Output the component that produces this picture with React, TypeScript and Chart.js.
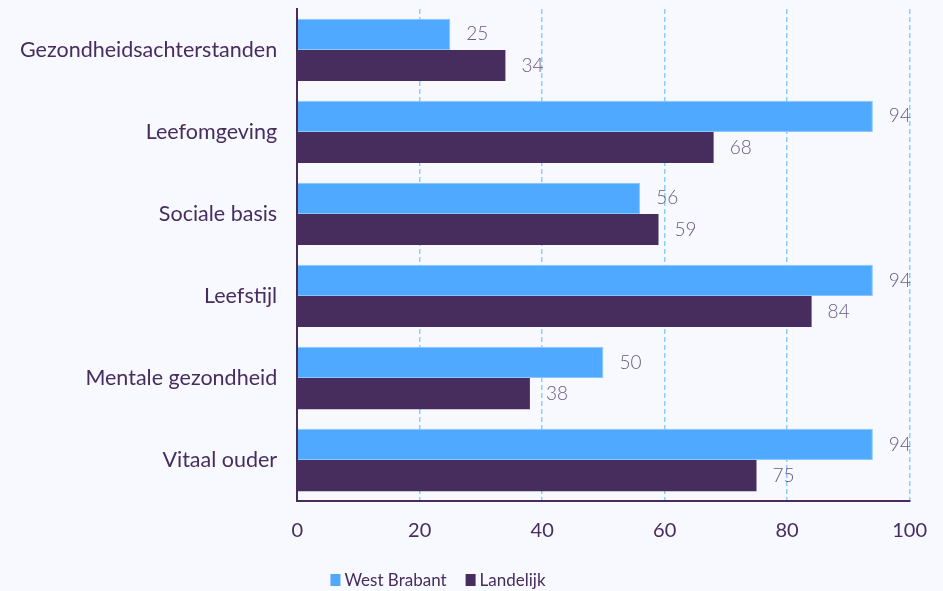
import React, { useEffect, useRef } from "react";
import { Chart, registerables } from "chart.js";

Chart.register(...registerables);

const categories = [
  "Gezondheidsachterstanden",
  "Leefomgeving",
  "Sociale basis",
  "Leefstijl",
  "Mentale gezondheid",
  "Vitaal ouder",
];
const westBrabant = [25, 94, 56, 94, 50, 94];
const landelijk = [34, 68, 59, 84, 38, 75];
const seriesNames = ["West Brabant", "Landelijk"];
const xMin = 0;
const xMax = 100;
const xStep = 20;

const TEXT = "#472c5e";
const BLUE = "#4fa9ff";
const PURPLE = "#472c5e";
const BG = "#f7f9fe";

const valueLabels = {
  id: "valueLabels",
  afterDatasetsDraw(chart: any) {
    const ctx = chart.ctx;
    ctx.save();
    ctx.font = "300 19px Lato";
    ctx.fillStyle = "#6a5981";
    ctx.textBaseline = "middle";
    ctx.textAlign = "left";
    chart.data.datasets.forEach((ds: any, i: number) => {
      const meta = chart.getDatasetMeta(i);
      meta.data.forEach((bar: any, j: number) => {
        ctx.fillText(String(ds.data[j]), bar.x + 16, bar.y);
      });
    });
    ctx.restore();
  },
};

const LEGEND_CENTER_X = 438;
const LEGEND_OFFSET_Y = 79;

const customLegend = {
  id: "customLegend",
  afterDraw(chart: any) {
    const ctx = chart.ctx;
    ctx.save();
    ctx.font = "17px Lato";
    ctx.textBaseline = "middle";
    ctx.textAlign = "left";
    const box = 10;
    const gap = 4;
    const itemGap = 19;
    const items = chart.data.datasets.map((ds: any) => ({
      text: ds.label,
      color: ds.backgroundColor,
      w: box + gap + ctx.measureText(ds.label).width,
    }));
    const total = items.reduce((s: number, it: any) => s + it.w, 0) + itemGap * (items.length - 1);
    let x = LEGEND_CENTER_X - total / 2;
    const y = chart.chartArea.bottom + LEGEND_OFFSET_Y;
    items.forEach((it: any) => {
      ctx.fillStyle = it.color;
      ctx.fillRect(x, y - 6, box, 12);
      ctx.fillStyle = TEXT;
      ctx.fillText(it.text, x + box + gap, y + 1);
      x += it.w + itemGap;
    });
    ctx.restore();
  },
};

export default function App() {
  const ref = useRef<HTMLCanvasElement | null>(null);
  useEffect(() => {
    let chart: any = null;
    let cancelled = false;
    const make = () => {
      if (cancelled || !ref.current) return;
      chart = new Chart(ref.current, {
        type: "bar",
        data: {
          labels: categories,
          datasets: [
            {
              label: seriesNames[0],
              data: westBrabant,
              backgroundColor: BLUE,
              borderColor: "#8cc6ff",
              borderWidth: 1,
            },
            {
              label: seriesNames[1],
              data: landelijk,
              backgroundColor: PURPLE,
              borderWidth: 0,
            },
          ],
        },
        options: {
          indexAxis: "y",
          animation: false,
          responsive: true,
          maintainAspectRatio: false,
          datasets: { bar: { categoryPercentage: 0.76, barPercentage: 1.0 } },
          layout: { padding: { top: 0, left: 0, right: 28, bottom: 60 } },
          plugins: {
            legend: { display: false },
            tooltip: { enabled: false },
          },
          scales: {
            x: {
              min: xMin,
              max: xMax,
              ticks: {
                stepSize: xStep,
                color: TEXT,
                font: { family: "Lato", size: 20 },
                padding: 18,
              },
              grid: {
                color: "#8ccdf9",
                lineWidth: 1.5,
                drawTicks: false,
              },
              border: { display: true, color: "#472c5e", width: 2, dash: [5, 3] },
            },
            y: {
              ticks: {
                color: TEXT,
                font: { family: "Lato", size: 21.5 },
                padding: 20,
              },
              grid: { display: false, drawTicks: false },
              border: { display: true, color: "#472c5e", width: 2 },
            },
          },
        },
        plugins: [valueLabels, customLegend],
      });
    };
    const fonts: any = (document as any).fonts;
    if (fonts && fonts.load) {
      Promise.all([
        fonts.load("19px Lato"),
        fonts.load("300 19px Lato"),
      ]).then(make, make);
    } else {
      make();
    }
    return () => {
      cancelled = true;
      if (chart) chart.destroy();
    };
  }, []);
  return (
    <div style={{ position: "fixed", left: 0, top: 0, width: 943, height: 591, background: BG, overflow: "hidden" }}>
      <div style={{ position: "absolute", left: 0, top: -24, width: 945, height: 645 }}>
        <canvas ref={ref} />
      </div>
    </div>
  );
}
